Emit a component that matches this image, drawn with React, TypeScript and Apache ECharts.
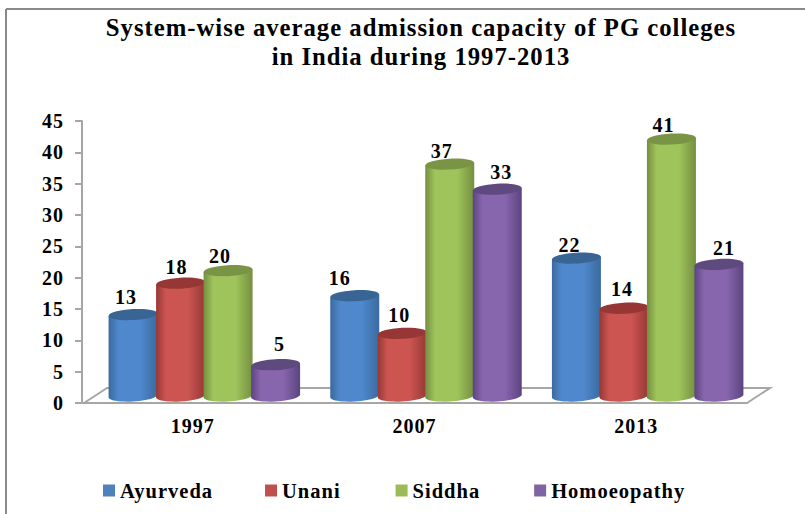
import React, { useEffect, useRef } from "react";
import * as echarts from "echarts";

const titleText = "System-wise average admission capacity of PG colleges\nin India during 1997-2013";
const years = ["1997", "2007", "2013"];
const ayurveda = [13, 16, 22];
const unani = [18, 10, 14];
const siddha = [20, 37, 41];
const homoeopathy = [5, 33, 21];
const yTicks = [0, 5, 10, 15, 20, 25, 30, 35, 40, 45];

const SERIF = "'Liberation Serif', 'Times New Roman', serif";
const GRID = { left: 82, right: 58, top: 121, bottom: 111 };
const STEP = 47.5, R = 24.5, RY = 5.5, TILT = 0.055, DX = 11.5, DY = 7;
const LABEL_DX = [[-7, -15, -7], [-4, -3, -2], [-8, -8, -8], [4, 4, 5]];
const LABEL_DY = [[-18, -18, -13], [-16, -18, -19], [-15, -13, -14], [-21, -17, -16]];

function cyl(index: number, edge: string, mid: string, top: string) {
  return (params: any, api: any) => {
    const cat = api.value(0), val = api.value(1);
    const p = api.coord([cat, val]);
    const base = api.coord([cat, 0]);
    const cx = p[0] + DX + (index - 1.5) * STEP;
    const ty = p[1] - DY, by = base[1] - DY;
    const tilt = R * Math.sin(TILT);
    const pts: number[][] = [[cx - R, ty + tilt]];
    for (let k = 0; k <= 24; k++) {
      const a = Math.PI * (1 - k / 24);
      const ex = R * Math.cos(a), ey = RY * Math.sin(a);
      pts.push([cx + ex, by + ey - (ex / R) * tilt]);
    }
    pts.push([cx + R, ty - tilt]);
    return {
      type: "group",
      children: [
        {
          type: "polygon",
          shape: { points: pts },
          style: {
            fill: new echarts.graphic.LinearGradient(0, 0, 1, 0, [
              { offset: 0, color: edge },
              { offset: 0.2, color: mid },
              { offset: 0.65, color: mid },
              { offset: 1, color: edge },
            ]),
          },
        },
        {
          type: "ellipse",
          x: cx, y: ty, rotation: TILT,
          shape: { cx: 0, cy: 0, rx: R, ry: RY },
          style: { fill: top },
        },
        {
          type: "text",
          x: cx + LABEL_DX[index][cat], y: ty + LABEL_DY[index][cat],
          style: {
            text: String(val), fill: "#000", align: "center", verticalAlign: "middle",
            font: `bold 20px ${SERIF}`,
          },
        },
      ],
    };
  };
}

function makeSeries(name: string, values: number[], i: number, c: string, edge: string, mid: string, top: string) {
  return {
    name, type: "custom", itemStyle: { color: c },
    encode: { x: 0, y: 1 },
    data: values.map((v, k) => [k, v]),
    renderItem: cyl(i, edge, mid, top),
    clip: false, z: 3 + i,
  };
}

const lineStyle = { stroke: "#A6A6A6", lineWidth: 2 };
const frameStyle = { stroke: "#8A8A8A", lineWidth: 2 };

export default function App() {
  const ref = useRef<HTMLDivElement>(null);
  useEffect(() => {
    const chart = echarts.init(ref.current!, null, { renderer: "svg" });
    chart.setOption({
      animation: false,
      backgroundColor: "#fff",
      title: {
        text: titleText, left: 416, top: 8, textAlign: "center",
        textStyle: { fontFamily: SERIF, fontWeight: "bold", fontSize: 24.7, lineHeight: 29, color: "#000" },
      },
      grid: GRID,
      legend: {
        left: 98, top: 475, itemWidth: 12, itemHeight: 12, itemGap: 60, icon: "rect",
        textStyle: { fontFamily: SERIF, fontWeight: "bold", fontSize: 20.5, color: "#000" },
      },
      xAxis: {
        type: "category", data: years,
        axisLine: { lineStyle: { color: "#A6A6A6", width: 2 } },
        axisTick: { length: 6, lineStyle: { color: "#A6A6A6", width: 2 } },
        axisLabel: { fontFamily: SERIF, fontWeight: "bold", fontSize: 20, color: "#000", margin: 13 },
      },
      yAxis: {
        type: "value", min: yTicks[0], max: yTicks[yTicks.length - 1], interval: 5,
        splitLine: { show: false },
        axisLine: { show: true, lineStyle: { color: "#A6A6A6", width: 2 } },
        axisTick: { show: true, length: 7, lineStyle: { color: "#A6A6A6", width: 2 } },
        axisLabel: { fontFamily: SERIF, fontWeight: "bold", fontSize: 20, color: "#000", margin: 18 },
      },
      graphic: [
        { type: "line", shape: { x1: 6, y1: 9, x2: 805, y2: 9 }, style: frameStyle },
        { type: "line", shape: { x1: 6, y1: 9, x2: 6, y2: 514 }, style: frameStyle },
        { type: "polyline", shape: { points: [[84, 403], [107, 388], [770, 388], [747, 403]] }, style: { ...lineStyle, fill: "none" } },
      ],
      series: [
        makeSeries("Ayurveda", ayurveda, 0, "#4F81BD", "#3A6A9E", "#4F88CC", "#386594"),
        makeSeries("Unani", unani, 1, "#C0504D", "#963836", "#CC5552", "#963735"),
        makeSeries("Siddha", siddha, 2, "#9BBB59", "#748F40", "#A0C45C", "#7A9445"),
        makeSeries("Homoeopathy", homoeopathy, 3, "#8064A2", "#5C4480", "#8866AE", "#5F4A80"),
      ],
    });
    return () => chart.dispose();
  }, []);
  return (
    <div
      ref={ref}
      style={{ position: "fixed", left: 0, top: 0, width: 805, height: 514, letterSpacing: "1px" }}
    />
  );
}
